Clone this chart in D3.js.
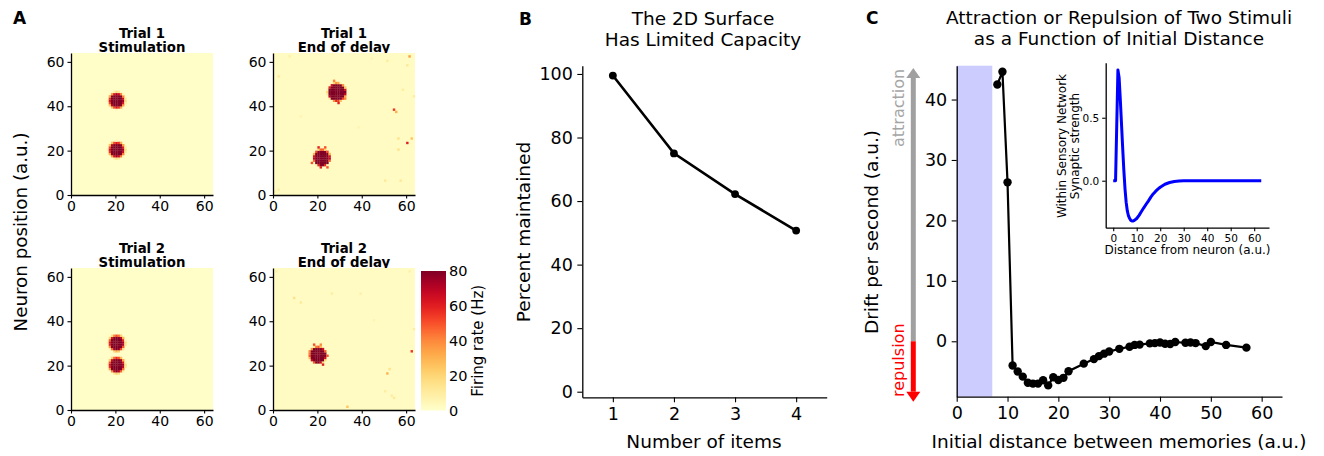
<!DOCTYPE html>
<html>
<head>
<meta charset="utf-8">
<script src="https://cdn.jsdelivr.net/npm/d3@7"></script>
<style>
  body { margin: 0; background: #fff; }
  text { font-family: "DejaVu Sans", sans-serif; fill: #000; }
</style>
</head>
<body>
<svg id="fig" width="1324" height="456"></svg>
<script>
// ---- panel A: heatmaps ----
const heatTitles = [["Trial 1", "Stimulation"], ["Trial 1", "End of delay"],
                    ["Trial 2", "Stimulation"], ["Trial 2", "End of delay"]]
// bump centres and radii, in neuron units: [x, y, r]
const blobs = [
  [[20.6, 42.6, 3.5], [20.6, 20.4, 3.5]],
  [[28.8, 46.4, 4.1], [22.0, 16.8, 3.8]],
  [[20.6, 30.2, 3.5], [20.6, 20.3, 3.5]],
  [[20.2, 24.8, 3.8]]
]
// single hot neurons: [x, y, rate]
const speckles = [
  [],
  [[61, 62, 35], [54, 38, 55], [55, 37, 30], [60, 23, 60], [62, 25, 25], [56, 25, 15],
   [56, 20, 15], [51, 60, 10], [60, 58, 12], [63, 44, 10], [2, 53, 12], [7, 62, 8],
   [2, 2, 10], [0, 1, 12], [50, 6, 12], [57, 6, 12], [58, 47, 10], [44, 61, 6],
   [20, 21, 60], [23, 21, 50], [17, 14, 50], [21, 12, 60], [24, 12, 50],
   [27, 51, 40], [32, 43, 40], [25, 45, 35], [29, 41, 60], [38, 30, 6], [12, 35, 6]],
  [],
  [[62, 26, 55], [51, 16, 30], [33, 1, 25], [9, 50, 15], [12, 48, 12], [26, 52, 10],
   [52, 18, 15], [53, 6, 10], [54, 5, 12], [50, 8, 10], [63, 36, 10], [61, 62, 8],
   [1, 62, 8], [39, 52, 8], [18, 29, 50], [21, 29, 40], [17, 22, 60], [22, 20, 60],
   [24, 24, 50], [16, 26, 40], [45, 40, 6]]
]
const edgeSoft = [1.4, 0.8, 1.4, 0.8]
const posTicks = [0, 20, 40, 60]
const rateTicks = [0, 20, 40, 60, 80]

// ---- panel B ----
const items = [1, 2, 3, 4]
const percentKept = [99.5, 75.0, 62.2, 50.7]
const pctTicks = [0, 20, 40, 60, 80, 100]

// ---- panel C ----
const distance = [8, 9, 10, 11, 12, 13, 14, 15, 16, 17, 18, 19, 20, 21, 22, 25, 27, 28, 29, 30,
                  32, 34, 35, 36, 38, 39, 40, 41, 42, 43, 45, 46, 47, 49, 50, 53, 57]
const drift = [42.5, 44.6, 26.3, -4.0, -5.0, -5.85, -6.85, -7.0, -7.0, -6.45, -7.3, -5.95, -6.4,
               -6.05, -4.95, -3.7, -2.95, -2.45, -2.05, -1.7, -1.25, -0.9, -0.6, -0.55, -0.35,
               -0.3, -0.2, -0.4, -0.45, -0.12, -0.25, -0.2, -0.3, -0.8, -0.12, -0.6, -1.05]
const distTicks = [0, 10, 20, 30, 40, 50, 60]
const driftTicks = [0, 10, 20, 30, 40]
const shadeRange = [0, 7]
const arrowRange = [-10, 45.2]

// inset: synaptic kernel
const kernelDist = [0, 1, 2, 2.5, 3, 3.5, 4, 4.5, 5, 5.5, 6, 6.5, 7, 7.5, 8, 8.5, 9, 10, 11, 12,
                    13, 14, 15, 16, 17, 18, 19, 20, 22, 24, 26, 28, 30, 40, 50, 63]
const kernelW = [0, 0, 0.88, 0.82, 0.65, 0.46, 0.27, 0.09, -0.06, -0.17, -0.24, -0.28, -0.30,
                 -0.315, -0.32, -0.32, -0.315, -0.30, -0.275, -0.245, -0.215, -0.187, -0.16,
                 -0.13, -0.105, -0.085, -0.067, -0.052, -0.028, -0.014, -0.006, -0.002, 0, 0, 0, 0]
const kernelXTicks = [0, 10, 20, 30, 40, 50, 60]
const kernelYTicks = [0, 0.5]

const svg = d3.select("#fig")
svg.append("rect").attr("width", 1324).attr("height", 456).attr("fill", "#fff")

function styleAxis(g, fs) {
  g.selectAll("text").style("font-size", fs + "px").attr("fill", "#000")
  g.selectAll("line").attr("stroke", "#000").attr("stroke-width", 1.1)
  g.select(".domain").attr("stroke", "#000").attr("stroke-width", 1.3)
}

function label(x, y, txt, fs, opts = {}) {
  let t = svg.append("text").attr("x", x).attr("y", y).text(txt)
    .style("font-size", fs + "px")
    .attr("text-anchor", opts.anchor || "middle")
  if (opts.bold) t.style("font-weight", "bold")
  if (opts.rot) t.attr("transform", `rotate(${opts.rot},${x},${y})`)
  if (opts.fill) t.style("fill", opts.fill)
  return t
}

// panel letters
label(13, 24, "A", 17, {anchor: "start", bold: true})
label(519, 25, "B", 17, {anchor: "start", bold: true})
label(866, 24, "C", 17, {anchor: "start", bold: true})

// ---------- A ----------
const rate = d3.scaleSequential(d3.interpolateYlOrRd).domain([0, 80])
const heatPos = [[71, 53], [273, 53], [71, 268], [273, 268]]
const hs = 142

heatPos.forEach(([hx, hy], k) => {
  label(hx + hs / 2, hy - 15.5, heatTitles[k][0], 13.3, {bold: true})
  label(hx + hs / 2, hy - 1.3, heatTitles[k][1], 13.3, {bold: true})

  let xs = d3.scaleLinear().domain([0, 64]).range([hx, hx + hs])
  let ys = d3.scaleLinear().domain([0, 64]).range([hy + hs, hy])
  let g = svg.append("g")
  g.append("rect").attr("x", xs(0)).attr("y", ys(64))
    .attr("width", xs(64) - xs(0)).attr("height", ys(0) - ys(64))
    .attr("fill", rate(k % 2 ? 2 : 1))

  // cells from bumps and speckles
  let cells = new Map()
  blobs[k].forEach(([bx, by, r]) => {
    for (let i = Math.floor(bx - r - 2); i <= bx + r + 2; i++) {
      for (let j = Math.floor(by - r - 2); j <= by + r + 2; j++) {
        let d = Math.hypot(i + 0.5 - bx, j + 0.5 - by)
        let v = 80 * Math.max(0, Math.min(1, (r + edgeSoft[k] / 2 - d) / edgeSoft[k]))
        let key = i + "," + j
        if (v > 3) cells.set(key, Math.max(cells.get(key) || 0, v))
      }
    }
  })
  speckles[k].forEach(([i, j, v]) => {
    let key = i + "," + j
    cells.set(key, Math.max(cells.get(key) || 0, v))
  })
  let cw = xs(1) - xs(0)
  g.selectAll("rect.cell").data(Array.from(cells.entries())).enter().append("rect")
    .attr("class", "cell")
    .attr("x", d => xs(+d[0].split(",")[0]))
    .attr("y", d => ys(+d[0].split(",")[1] + 1))
    .attr("width", cw + 0.2).attr("height", cw + 0.2)
    .attr("fill", d => rate(d[1]))

  let ax = svg.append("g").attr("transform", `translate(0,${hy + hs})`)
    .call(d3.axisBottom(xs).tickValues(posTicks).tickSize(3.5).tickSizeOuter(0).tickPadding(3))
  styleAxis(ax, 14)
  let ay = svg.append("g").attr("transform", `translate(${hx},0)`)
    .call(d3.axisLeft(ys).tickValues(posTicks).tickSize(3.5).tickSizeOuter(0).tickPadding(3))
  styleAxis(ay, 14)
})

label(27, 232, "Neuron position (a.u.)", 18.3, {rot: -90})

// colorbar
const cb = {x: 421, y: 271, w: 25, h: 139.5}
const grad = svg.append("defs").append("linearGradient").attr("id", "cbgrad")
  .attr("x1", 0).attr("y1", 1).attr("x2", 0).attr("y2", 0)
d3.range(0, 1.001, 0.05).forEach(t => {
  grad.append("stop").attr("offset", t).attr("stop-color", rate(t * 80))
})
svg.append("rect").attr("x", cb.x).attr("y", cb.y).attr("width", cb.w).attr("height", cb.h)
  .attr("fill", "url(#cbgrad)")
const cbScale = d3.scaleLinear().domain([0, 80]).range([cb.y + cb.h, cb.y])
let cba = svg.append("g").attr("transform", `translate(${cb.x + cb.w},0)`)
  .call(d3.axisRight(cbScale).tickValues(rateTicks).tickSize(0).tickPadding(3))
styleAxis(cba, 14.5)
cba.select(".domain").remove()
label(483, cb.y + cb.h / 2, "Firing rate (Hz)", 15, {rot: -90})

// ---------- B ----------
const xB = d3.scaleLinear().domain([0.5, 4.5]).range([582.3, 826.7])
const yB = d3.scaleLinear().domain([-1.76, 102.6]).range([397.3, 65.7])

label(703, 25, "The 2D Surface", 18.5)
label(703, 45.5, "Has Limited Capacity", 18.5)

let bx = svg.append("g").attr("transform", `translate(0,${yB.range()[0]})`)
  .call(d3.axisBottom(xB).tickValues(items).tickFormat(d3.format("d")).tickSize(5).tickSizeOuter(0).tickPadding(5))
styleAxis(bx, 17.5)
let by = svg.append("g").attr("transform", `translate(${xB.range()[0]},0)`)
  .call(d3.axisLeft(yB).tickValues(pctTicks).tickSize(5).tickSizeOuter(0).tickPadding(4.5))
styleAxis(by, 17.5)

const bData = items.map((d, i) => [d, percentKept[i]])
svg.append("path").datum(bData)
  .attr("d", d3.line().x(d => xB(d[0])).y(d => yB(d[1])))
  .attr("fill", "none").attr("stroke", "#000").attr("stroke-width", 2.6)
svg.selectAll("circle.b").data(bData).enter().append("circle")
  .attr("cx", d => xB(d[0])).attr("cy", d => yB(d[1])).attr("r", 3.9).attr("fill", "#000")

label(704, 448, "Number of items", 18.5)
label(530, 232, "Percent maintained", 18.5, {rot: -90})

// ---------- C ----------
const xC = d3.scaleLinear().domain([0, 64]).range([956.7, 1282])
const yC = d3.scaleLinear().domain([-9.17, 45.6]).range([396.7, 65.7])

label(1119, 24, "Attraction or Repulsion of Two Stimuli", 18.5)
label(1119, 45, "as a Function of Initial Distance", 18.5)

svg.append("rect").attr("x", xC(shadeRange[0])).attr("y", yC.range()[1])
  .attr("width", xC(shadeRange[1]) - xC(shadeRange[0]))
  .attr("height", yC.range()[0] - yC.range()[1])
  .attr("fill", "#ccccff")

let cx = svg.append("g").attr("transform", `translate(0,${yC.range()[0]})`)
  .call(d3.axisBottom(xC).tickValues(distTicks).tickSize(5).tickSizeOuter(0).tickPadding(5))
styleAxis(cx, 17.5)
let cy = svg.append("g").attr("transform", `translate(${xC.range()[0]},0)`)
  .call(d3.axisLeft(yC).tickValues(driftTicks).tickSize(5).tickSizeOuter(0).tickPadding(4.5))
styleAxis(cy, 17.5)

const cData = distance.map((d, i) => [d, drift[i]])
svg.append("path").datum(cData)
  .attr("d", d3.line().x(d => xC(d[0])).y(d => yC(d[1])))
  .attr("fill", "none").attr("stroke", "#000").attr("stroke-width", 2.2)
svg.selectAll("circle.c").data(cData).enter().append("circle")
  .attr("cx", d => xC(d[0])).attr("cy", d => yC(d[1])).attr("r", 4.2).attr("fill", "#000")

label(1119, 448, "Initial distance between memories (a.u.)", 18.5)
label(878, 232, "Drift per second (a.u.)", 18.5, {rot: -90})

// attraction / repulsion arrow
const ax0 = 913.3, head = 10, headW = 7
svg.append("line").attr("x1", ax0).attr("x2", ax0)
  .attr("y1", yC(0)).attr("y2", yC(arrowRange[1]) + head)
  .attr("stroke", "#a0a0a0").attr("stroke-width", 5)
svg.append("path")
  .attr("d", `M${ax0 - headW},${yC(arrowRange[1]) + head} L${ax0},${yC(arrowRange[1])} L${ax0 + headW},${yC(arrowRange[1]) + head}Z`)
  .attr("fill", "#a0a0a0")
svg.append("line").attr("x1", ax0).attr("x2", ax0)
  .attr("y1", yC(0)).attr("y2", yC(arrowRange[0]) - head)
  .attr("stroke", "#ff0000").attr("stroke-width", 5)
svg.append("path")
  .attr("d", `M${ax0 - headW},${yC(arrowRange[0]) - head} L${ax0},${yC(arrowRange[0])} L${ax0 + headW},${yC(arrowRange[0]) - head}Z`)
  .attr("fill", "#ff0000")
label(903.5, 147, "attraction", 16, {rot: -90, anchor: "start", fill: "#a5a5a5"})
label(903.5, 397, "repulsion", 16, {rot: -90, anchor: "start", fill: "#ff0000"})

// inset
const xI = d3.scaleLinear().domain([-3.2, 66.3]).range([1105.7, 1269])
const yI = d3.scaleLinear().domain([-0.373, 0.937]).range([227.7, 62.7])
let ix = svg.append("g").attr("transform", `translate(0,${yI.range()[0]})`)
  .call(d3.axisBottom(xI).tickValues(kernelXTicks).tickSize(3.5).tickSizeOuter(0).tickPadding(3))
styleAxis(ix, 10.5)
let iy = svg.append("g").attr("transform", `translate(${xI.range()[0]},0)`)
  .call(d3.axisLeft(yI).tickValues(kernelYTicks).tickFormat(d3.format(".1f")).tickSize(3.5).tickSizeOuter(0).tickPadding(3))
styleAxis(iy, 10.5)
svg.append("path").datum(kernelDist.map((d, i) => [d, kernelW[i]]))
  .attr("d", d3.line().x(d => xI(d[0])).y(d => yI(d[1])))
  .attr("fill", "none").attr("stroke", "#0000ff").attr("stroke-width", 3)
  .attr("stroke-linejoin", "round")
label(1187.5, 254, "Distance from neuron (a.u.)", 12)
label(1066, 146, "Within Sensory Network", 12, {rot: -90})
label(1079, 146, "Synaptic strength", 12, {rot: -90})
</script>
</body>
</html>
